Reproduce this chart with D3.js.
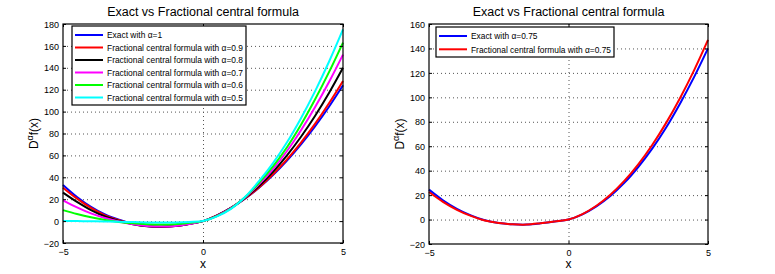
<!DOCTYPE html>
<html><head><meta charset="utf-8">
<script src="https://cdn.jsdelivr.net/npm/d3@7"></script>
<style>
body{margin:0;background:#fff;}
svg{display:block;font-family:"Liberation Sans",Arial,Helvetica,sans-serif;}
</style></head>
<body><svg id="c" width="775" height="274"></svg>
<script>
// ---- data ----
const xs = [-5,-4.5,-4,-3.5,-3,-2.5,-2,-1.5,-1,-0.5,0,0.5,1,1.5,2,2.5,3,3.5,4,4.5,5];

// Left panel series
const exact1   = [33,22,13,6,1.2,-2.5,-4.5,-5.2,-4.5,-2.5,0,5.2,12,20.4,30.4,42,55.2,70,86.4,104.4,124];
const frac09   = [30.5,20.5,12,5.3,0.8,-2.6,-4.5,-5.2,-4.5,-2.5,0,5.15,12,20.6,30.8,42.8,56.4,71.7,88.8,107.6,128];
const frac08   = [26,17.5,10,4.2,0.2,-2.8,-4.6,-5.2,-4.5,-2.6,0,5,12,21.2,32,45,60,77,96,117,140];
const frac07   = [19,12.5,7,2.8,-0.4,-2.8,-4.4,-5,-4.4,-2.6,0,4.8,11.8,21.5,33.5,47.5,64,83,104,127,152];
const frac06   = [10,6.5,3.5,1,-0.8,-2,-2.8,-3.1,-2.8,-1.6,0,4.6,11.5,21.7,35,50,67.5,88,111,136,163];
const frac05   = [0,0,-0.1,-0.3,-0.6,-0.9,-1.2,-1.3,-1.2,-0.8,0,4.3,11.2,22,36.5,53,72,94,118.5,145.5,175];

// Right panel series
const exact075 = [24.5,15.8,8.8,3.4,-0.6,-2.9,-3.9,-4.1,-3.1,-1.6,0,4.3,10.8,19.3,30,43,58,75.3,95,116.5,140];
const frac075  = [22.5,14.5,8,3,-0.8,-2.9,-3.9,-4.1,-3,-1.6,0,4.5,11.3,20.3,31.6,45.2,61,79.1,99.5,122.1,147];

const xTicks = [-5,0,5];
const yTicksL = [-20,0,20,40,60,80,100,120,140,160,180];
const yTicksR = [-20,0,20,40,60,80,100,120,140,160];

const labelsL = ["Exact with \u03b1=1","Fractional central formula with \u03b1=0.9","Fractional central formula with \u03b1=0.8",
  "Fractional central formula with \u03b1=0.7","Fractional central formula with \u03b1=0.6","Fractional central formula with \u03b1=0.5"];
const colorsL = ["#0000ff","#ff0000","#000000","#ff00ff","#00ff00","#00ffff"];
const labelsR = ["Exact with \u03b1=0.75","Fractional central formula with \u03b1=0.75"];
const colorsR = ["#0000ff","#ff0000"];
const title = "Exact vs Fractional central formula";

const svg = d3.select("#c");

function panel(o){
  const g = svg.append("g");
  const x = d3.scaleLinear().domain([-5,5]).range([o.x0,o.x1]);
  const y = d3.scaleLinear().domain(o.ydom).range([o.y1,o.y0]);
  // grid
  g.selectAll(".gy").data(o.yTicks.slice(1,-1)).enter().append("line")
    .attr("x1",o.x0).attr("x2",o.x1).attr("y1",d=>y(d)+0.5).attr("y2",d=>y(d)+0.5)
    .attr("stroke","#555").attr("stroke-width",1).attr("stroke-dasharray","1,3");
  g.selectAll(".gx").data(xTicks.slice(1,-1)).enter().append("line")
    .attr("y1",o.y0).attr("y2",o.y1).attr("x1",d=>x(d)+0.5).attr("x2",d=>x(d)+0.5)
    .attr("stroke","#555").attr("stroke-width",1).attr("stroke-dasharray","1,3");
  // lines
  const line = d3.line().x((d,i)=>x(xs[i])).y(d=>y(d)).curve(d3.curveCatmullRom.alpha(0.5));
  o.series.forEach((s,i)=>{
    g.append("path").attr("d",line(s)).attr("fill","none").attr("stroke",o.colors[i]).attr("stroke-width",2);
  });
  // axes with inward ticks
  const ax = g.append("g").attr("transform",`translate(0,${o.y1})`)
    .call(d3.axisBottom(x).tickValues(xTicks).tickSizeInner(-3).tickSizeOuter(0).tickPadding(6).tickFormat(d3.format("d")));
  const axT = g.append("g").attr("transform",`translate(0,${o.y0})`)
    .call(d3.axisTop(x).tickValues(xTicks).tickSizeInner(-3).tickSizeOuter(0).tickFormat(""));
  const ay = g.append("g").attr("transform",`translate(${o.x0},0)`)
    .call(d3.axisLeft(y).tickValues(o.yTicks).tickSizeInner(-3).tickSizeOuter(0).tickPadding(4).tickFormat(d3.format("d")));
  const ayR = g.append("g").attr("transform",`translate(${o.x1},0)`)
    .call(d3.axisRight(y).tickValues(o.yTicks).tickSizeInner(-3).tickSizeOuter(0).tickFormat(""));
  [ax,axT,ay,ayR].forEach(a=>{
    a.select(".domain").remove();
    a.selectAll("line").attr("stroke","#000");
    a.selectAll("text").attr("font-size","9px").attr("fill","#000").attr("font-family","Liberation Sans, Arial, sans-serif");
  });
  ay.selectAll("text").attr("dy","0.35em");
  // box
  g.append("rect").attr("x",o.x0).attr("y",o.y0).attr("width",o.x1-o.x0).attr("height",o.y1-o.y0)
    .attr("fill","none").attr("stroke","#000").attr("stroke-width",1.2);
  // title
  g.append("text").attr("x",(o.x0+o.x1)/2).attr("y",16).attr("text-anchor","middle")
    .attr("font-size","12.5px").text(title);
  // x label
  g.append("text").attr("x",(o.x0+o.x1)/2).attr("y",268).attr("text-anchor","middle")
    .attr("font-size","12px").text("x");
  // y label
  const yl = g.append("text").attr("transform",`translate(${o.ylx},${(o.y0+o.y1)/2}) rotate(-90)`)
    .attr("text-anchor","middle").attr("font-size","12px");
  yl.append("tspan").text("D");
  yl.append("tspan").attr("dy","-5").attr("font-size","9px").text("\u03b1");
  yl.append("tspan").attr("dy","5").text("f(x)");
  // legend
  const lg = g.append("g");
  lg.append("rect").attr("x",o.lx).attr("y",o.ly).attr("width",o.lw).attr("height",o.lh)
    .attr("fill","#fff").attr("stroke","#000").attr("stroke-width",1.2);
  const texts = [];
  o.labels.forEach((t,i)=>{
    const yy = o.ly + o.lpad + i*o.lstep;
    lg.append("line").attr("x1",o.lx+3).attr("x2",o.lx+31).attr("y1",yy).attr("y2",yy)
      .attr("stroke",o.colors[i]).attr("stroke-width",2);
    texts.push(lg.append("text").attr("x",o.lx+35).attr("y",yy).attr("dy","0.35em").attr("font-size","9.5px").text(t));
  });
  // condense labels horizontally so the longest fits the box
  const maxW = d3.max(texts, t=>t.node().getComputedTextLength());
  const target = o.lw - 38;
  const k = Math.min(1, target/maxW);
  texts.forEach(t=>{
    const w = t.node().getComputedTextLength();
    t.attr("textLength",(w*k).toFixed(1)).attr("lengthAdjust","spacingAndGlyphs");
  });
}

panel({x0:63,x1:343,y0:24,y1:243,ydom:[-20,180],yTicks:yTicksL,ylx:38,
  series:[exact1,frac09,frac08,frac07,frac06,frac05],colors:colorsL,labels:labelsL,
  lx:72,ly:26,lw:174,lh:79,lpad:9,lstep:12.5});
panel({x0:429,x1:708,y0:24,y1:244,ydom:[-20,160],yTicks:yTicksR,ylx:404,
  series:[exact075,frac075],colors:colorsR,labels:labelsR,
  lx:436,ly:27,lw:178,lh:30,lpad:9,lstep:13.3});
</script></body></html>
